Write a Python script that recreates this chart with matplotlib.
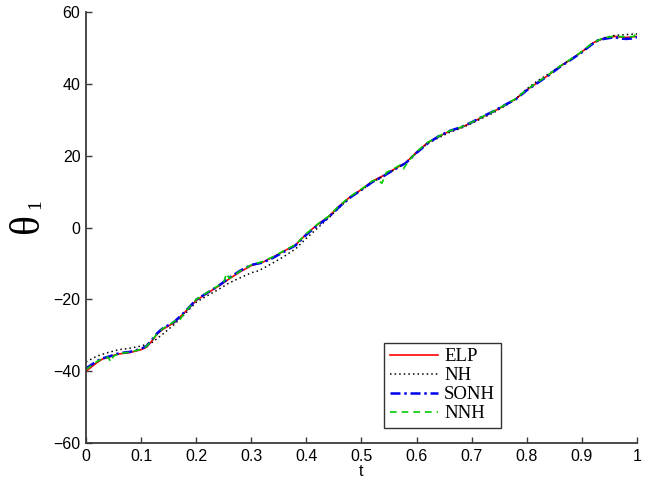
import matplotlib
matplotlib.use("Agg")
import matplotlib.pyplot as plt

# ---- data ----
t_elp = [0.00, 0.01, 0.02, 0.03, 0.04, 0.05, 0.06, 0.08, 0.10, 0.11, 0.12, 0.13, 0.14,
         0.16, 0.18, 0.20, 0.22, 0.24, 0.26, 0.28, 0.30, 0.32, 0.34, 0.36, 0.38, 0.40,
         0.42, 0.44, 0.46, 0.48, 0.50, 0.52, 0.54, 0.56, 0.58, 0.60, 0.62, 0.64, 0.66,
         0.68, 0.70, 0.72, 0.74, 0.76, 0.78, 0.80, 0.82, 0.84, 0.86, 0.88, 0.90, 0.92,
         0.94, 0.96, 0.98, 1.00]
elp = [-40.0, -38.8, -37.6, -36.6, -36.2, -35.6, -35.2, -34.8, -34.0, -33.3, -31.5, -29.5, -28.3,
       -26.5, -23.5, -20.3, -18.3, -16.4, -14.3, -12.3, -10.6, -9.7, -8.2, -6.5, -4.9, -1.8,
       0.8, 3.0, 6.0, 8.6, 10.6, 12.9, 14.5, 16.3, 18.0, 21.0, 23.6, 25.3, 26.8,
       27.8, 29.2, 30.8, 32.3, 34.0, 35.8, 38.3, 40.4, 42.5, 44.8, 46.8, 48.9, 51.4,
       52.7, 53.2, 52.9, 53.2]

t_nh = [0.00, 0.02, 0.04, 0.06, 0.08, 0.10, 0.12, 0.14, 0.16, 0.18, 0.20, 0.22, 0.24, 0.26,
        0.28, 0.30, 0.31, 0.32, 0.34, 0.36, 0.38, 0.40, 0.42, 0.44, 0.46, 0.48, 0.50, 0.52,
        0.54, 0.56, 0.58, 0.60, 0.62, 0.64, 0.66, 0.68, 0.70, 0.72, 0.74, 0.76, 0.78, 0.80,
        0.82, 0.84, 0.86, 0.88, 0.90, 0.92, 0.94, 0.96, 0.98, 1.00]
nh = [-37.4, -35.8, -34.8, -34.0, -33.6, -33.0, -32.0, -29.6, -27.0, -24.0, -20.8, -19.0, -17.3, -15.4,
      -14.0, -12.6, -12.2, -11.5, -9.8, -8.0, -6.0, -3.0, -0.2, 2.6, 5.6, 8.4, 10.4, 12.6,
      14.3, 16.1, 17.9, 20.7, 23.4, 25.0, 26.5, 27.6, 29.0, 30.5, 32.0, 33.8, 35.8, 38.6,
      40.9, 42.8, 44.9, 46.8, 48.9, 51.2, 52.8, 53.5, 53.7, 53.9]

t_sonh = [0.00, 0.01, 0.02, 0.03, 0.04, 0.05, 0.06, 0.08, 0.10, 0.11, 0.12, 0.13, 0.14,
          0.16, 0.18, 0.20, 0.22, 0.24, 0.26, 0.28, 0.30, 0.32, 0.34, 0.36, 0.38, 0.40,
          0.42, 0.44, 0.46, 0.48, 0.50, 0.52, 0.54, 0.56, 0.58, 0.60, 0.62, 0.64, 0.66,
          0.68, 0.70, 0.72, 0.74, 0.76, 0.78, 0.80, 0.82, 0.84, 0.86, 0.88, 0.90, 0.92,
          0.93, 0.94, 0.96, 0.97, 0.98, 0.99, 1.00]
sonh = [-39.2, -38.2, -37.2, -36.4, -36.0, -35.5, -35.0, -34.6, -33.8, -33.0, -31.2, -29.3, -28.0,
        -26.3, -23.4, -20.1, -18.2, -16.3, -14.0, -12.0, -10.4, -9.8, -8.4, -6.7, -5.0, -2.0,
        0.6, 2.8, 5.8, 8.4, 10.5, 12.7, 14.3, 16.2, 17.9, 20.8, 23.4, 25.4, 26.9,
        27.9, 29.3, 30.9, 32.4, 34.1, 35.7, 38.2, 40.3, 42.4, 44.7, 46.7, 48.8, 51.2,
        52.2, 52.5, 53.0, 52.6, 52.5, 52.6, 53.0]

t_nnh = [0.00, 0.01, 0.02, 0.03, 0.04, 0.045, 0.05, 0.06, 0.08, 0.10, 0.11, 0.12, 0.13, 0.14,
         0.16, 0.165, 0.17, 0.18, 0.20, 0.22, 0.24, 0.25, 0.255, 0.26, 0.28, 0.30, 0.32,
         0.34, 0.36, 0.38, 0.40, 0.42, 0.44, 0.46, 0.48, 0.50, 0.52, 0.53, 0.537, 0.545,
         0.56, 0.57, 0.576, 0.585, 0.60, 0.62, 0.64, 0.66, 0.68, 0.70, 0.72, 0.74, 0.76,
         0.78, 0.80, 0.82, 0.84, 0.86, 0.88, 0.90, 0.92, 0.94, 0.96, 0.98, 0.995, 1.00]
nnh = [-39.6, -38.4, -37.3, -36.5, -36.1, -37.4, -35.8, -35.1, -34.7, -33.9, -33.1, -31.3, -29.4, -28.1,
       -26.2, -25.6, -25.8, -23.5, -20.0, -18.1, -16.2, -15.2, -12.8, -14.2, -12.1, -10.4, -9.5,
       -8.1, -6.4, -4.8, -1.7, 0.9, 3.1, 6.1, 8.7, 10.7, 13.0, 13.3, 12.3, 15.3,
       16.5, 17.4, 16.3, 18.4, 21.1, 23.7, 25.4, 26.9, 27.9, 29.3, 30.9, 32.4, 34.1,
       35.9, 38.4, 40.5, 42.6, 44.9, 46.9, 49.0, 51.5, 52.8, 53.3, 53.0, 53.2, 55.0]

series_names = ["ELP", "NH", "SONH", "NNH"]
x_ticks = [0, 0.1, 0.2, 0.3, 0.4, 0.5, 0.6, 0.7, 0.8, 0.9, 1]
x_tick_labels = ["0", "0.1", "0.2", "0.3", "0.4", "0.5", "0.6", "0.7", "0.8", "0.9", "1"]
y_ticks = [-60, -40, -20, 0, 20, 40, 60]

# ---- figure ----
plt.rcParams['font.family'] = ['Liberation Sans', 'DejaVu Sans']

fig = plt.figure(figsize=(6.55, 4.95), dpi=100)
ax = fig.add_axes([0.1313, 0.105, 0.8412, 0.8708])

ax.plot(t_elp, elp, color='#ff0000', lw=1.2, ls='-', label=series_names[0])
ax.plot(t_nh, nh, color='black', lw=1.1, ls=(0, (1, 2)), label=series_names[1])
ax.plot(t_sonh, sonh, color='#0000ee', lw=1.8, ls=(0, (4, 1.5, 1, 1.5)), label=series_names[2])
ax.plot(t_nnh, nnh, color='#00cc00', lw=1.2, ls=(0, (4, 3)), label=series_names[3])

ax.set_xlim(0, 1)
ax.set_ylim(-60, 60)
ax.set_xticks(x_ticks)
ax.set_xticklabels(x_tick_labels)
ax.set_yticks(y_ticks)

for s in ['top', 'right']:
    ax.spines[s].set_visible(False)
for s in ['left', 'bottom']:
    ax.spines[s].set_color('#3a3a3a')
    ax.spines[s].set_linewidth(1.3)
ax.tick_params(direction='in', length=4, width=1, color='#3a3a3a', labelsize=11.5,
               labelcolor='black', pad=4)

ax.set_xlabel('t', fontsize=11.5, labelpad=0)

# y label: theta with subscript 1 (rotated)
fig.text(28 / 655, 1 - 223 / 495, '\u03b8', rotation=90, ha='center', va='center',
         fontsize=30, family='Liberation Serif')
fig.text(36 / 655, 1 - 204 / 495, '1', rotation=90, ha='center', va='center',
         fontsize=14, family='Liberation Serif')

leg = ax.legend(loc='lower left', bbox_to_anchor=(0.541, 0.035), frameon=True,
                fancybox=False, shadow=False, prop={'family': 'Liberation Serif', 'size': 13.5},
                handlelength=2.6, handletextpad=0.3, labelspacing=0.1, borderpad=0.3,
                borderaxespad=0)
leg.get_frame().set_edgecolor('black')
leg.get_frame().set_linewidth(1.0)

fig.savefig('out.png', dpi=100)
